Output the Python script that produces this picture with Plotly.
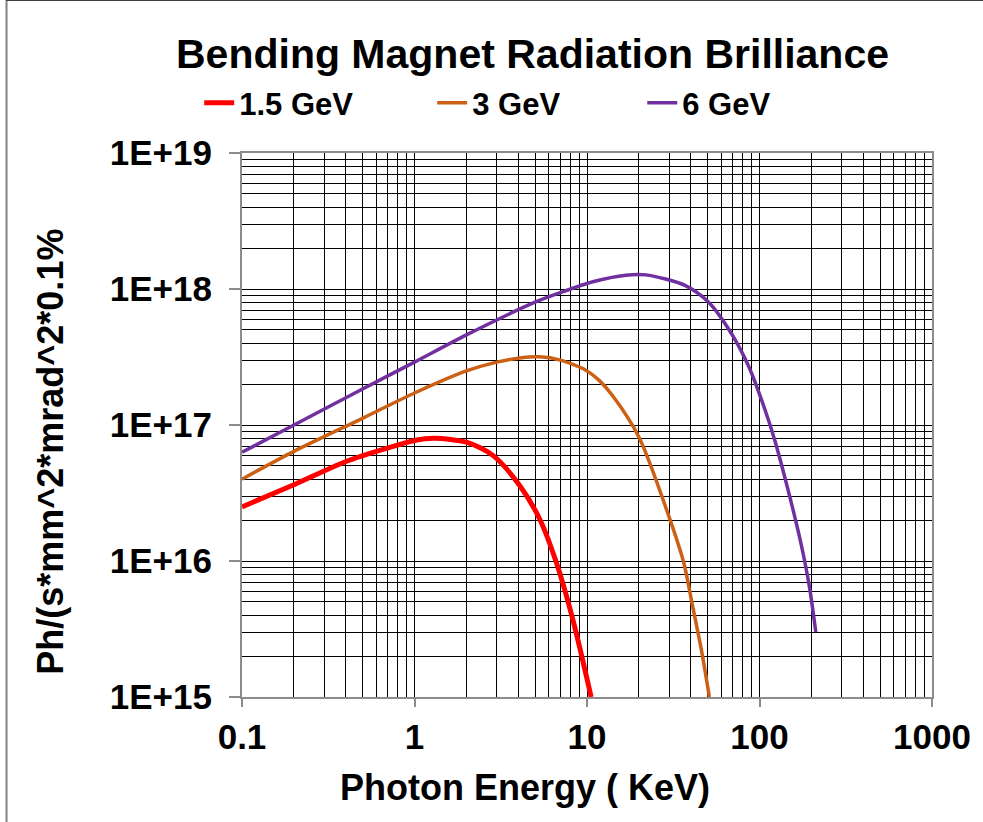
import plotly.graph_objects as go

# Photon energy (keV) and brilliance for each electron beam energy
energy_1p5 = [0.1, 0.203, 0.411, 0.834, 1.0, 1.30, 2.02, 2.87, 4.09, 5.33, 6.65, 8.28, 10.57]
brill_1p5 = [2.5e16, 3.67e16, 5.46e16, 7.24e16, 7.7e16, 7.98e16, 7.45e16, 5.93e16,
             3.56e16, 2.02e16, 9.7e15, 3.7e15, 1.0e15]

energy_3 = [0.1, 0.2, 0.5, 1.0, 2.0, 3.0, 4.0, 5.3, 7.0, 9.89, 11.8, 14.08,
            20.05, 29.8, 36.4, 40.6, 46.4, 51.2]
brill_3 = [4.0e16, 6.4e16, 1.12e17, 1.72e17, 2.5e17, 2.9e17, 3.1e17, 3.17e17, 3.0e17,
           2.52e17, 2.12e17, 1.64e17, 8.1e16, 2.14e16, 9.7e15, 4.92e15, 2.10e15, 1.0e15]

energy_6 = [0.1, 0.2, 0.5, 1.0, 2.0, 5.0, 7.0, 10.8, 16.8, 21.9, 37.2,
            50.7, 66.1, 86.1, 107.5, 122.7, 150, 175, 195, 212]
brill_6 = [6.3e16, 1.0e17, 1.84e17, 2.9e17, 4.6e17, 8.0e17, 9.4e17, 1.13e18,
           1.264e18, 1.27e18, 1.06e18, 8.0e17, 5.1e17, 2.74e17, 1.3e17, 7.7e16,
           2.95e16, 1.3e16, 6.4e15, 3.0e15]

series_names = ["1.5 GeV", "3 GeV", "6 GeV"]
series_colors = ["#FF0000", "#CC6014", "#7030A0"]

x_tick_vals = [0.1, 1, 10, 100, 1000]
x_tick_text = ["0.1", "1", "10", "100", "1000"]
y_tick_vals = [1e15, 1e16, 1e17, 1e18, 1e19]
y_tick_text = ["1E+15", "1E+16", "1E+17", "1E+18", "1E+19"]

x_minor = [m * 10.0 ** k for k in range(-1, 3) for m in range(2, 10)]
y_minor = [m * 10.0 ** k for k in range(15, 19) for m in range(2, 10)]

FONT = "Liberation Sans, Arial, sans-serif"

# plot-area geometry in pixels
L, R, T, B = 242, 48, 153, 125
W, H = 983, 822
PW, PH = W - L - R, H - T - B


def px_x(px):
    return (px - L) / PW


def px_y(py):
    return (H - B - py) / PH


fig = go.Figure()
series = [
    (energy_1p5, brill_1p5, 5, "legend"),
    (energy_3, brill_3, 3.5, "legend2"),
    (energy_6, brill_6, 3.5, "legend3"),
]
for (xs, ys, w, leg), name, color in zip(series, series_names, series_colors):
    fig.add_trace(go.Scatter(
        x=xs, y=ys, mode="lines", name=name, legend=leg, showlegend=True,
        line=dict(color=color, width=w, shape="spline", smoothing=0.8),
    ))

legend_font = dict(family=FONT, size=31, weight="bold", color="black")
legend_common = dict(orientation="h", xanchor="left", yanchor="middle",
                     bgcolor="rgba(0,0,0,0)", font=legend_font)

axis_common = dict(
    type="log", showline=True, linecolor="#8c8c8c", linewidth=2, mirror=True,
    ticks="outside", tickcolor="#8c8c8c", tickwidth=1.5,
    showgrid=True, gridcolor="black", gridwidth=1, zeroline=False,
    tickmode="array",
)

fig.update_layout(
    width=W, height=H,
    margin=dict(l=L, r=R, t=T, b=B, pad=0),
    plot_bgcolor="white", paper_bgcolor="white",
    showlegend=True,
    font=dict(family=FONT, color="black"),
    title=dict(text="Bending Magnet Radiation Brilliance",
               font=dict(family=FONT, size=41, weight="bold", color="black"),
               x=532.5 / W, xanchor="center", xref="container",
               y=1 - 54 / H, yanchor="middle", yref="container"),
    legend=dict(x=px_x(199), y=px_y(103), **legend_common),
    legend2=dict(x=px_x(433), y=px_y(103), **legend_common),
    legend3=dict(x=px_x(644), y=px_y(103), **legend_common),
    xaxis=dict(range=[-1, 3], tickvals=x_tick_vals, ticktext=x_tick_text, ticklen=8,
               tickfont=dict(family=FONT, size=35, weight="bold", color="black"),
               minor=dict(tickvals=x_minor, showgrid=True, gridcolor="black",
                          gridwidth=1, ticks=""),
               **axis_common),
    yaxis=dict(range=[15, 19], tickvals=y_tick_vals, ticktext=y_tick_text, ticklen=11,
               tickfont=dict(family=FONT, size=35, weight="bold", color="black"),
               ticklabelstandoff=10,
               minor=dict(tickvals=y_minor, showgrid=True, gridcolor="black",
                          gridwidth=1, ticks=""),
               **axis_common),
    annotations=[
        dict(text="Photon Energy ( KeV)", xref="paper", yref="paper",
             x=px_x(526.5), y=px_y(787), xanchor="center", yanchor="middle",
             showarrow=False,
             font=dict(family=FONT, size=36, weight="bold", color="black")),
        dict(text="Ph/(s*mm^2*mrad^2*0.1%", xref="paper", yref="paper",
             x=px_x(50), y=px_y(452), xanchor="center", yanchor="middle",
             textangle=-90, showarrow=False,
             font=dict(family=FONT, size=36, weight="bold", color="black")),
    ],
    shapes=[
        dict(type="line", xref="paper", yref="paper",
             x0=px_x(5.5), x1=px_x(5.5), y0=px_y(-5), y1=px_y(H + 5),
             line=dict(color="#808080", width=2)),
        dict(type="line", xref="paper", yref="paper",
             x0=px_x(5), x1=px_x(W + 5), y0=px_y(0.5), y1=px_y(0.5),
             line=dict(color="#404040", width=1)),
    ],
)

fig.write_html("out.html")
